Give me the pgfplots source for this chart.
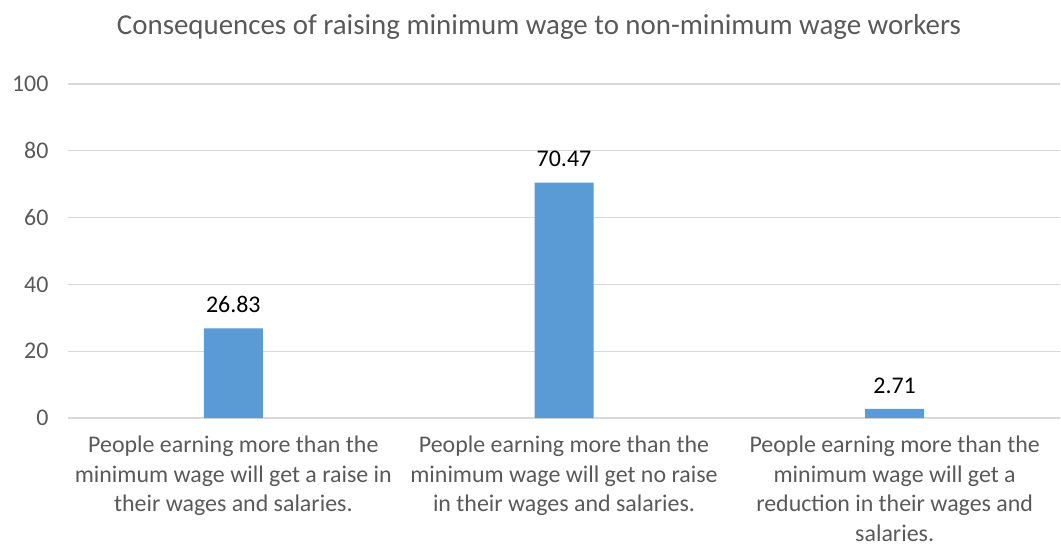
\documentclass[border=0pt]{standalone}
\usepackage{pgfplots}
\pgfplotsset{compat=1.18}
\usepackage{fontspec}
\setmainfont{Carlito}
\definecolor{barblue}{HTML}{5B9BD5}
\definecolor{txtgray}{HTML}{595959}
\definecolor{gridgray}{HTML}{D9D9D9}
\begin{document}
\begin{tikzpicture}
\useasboundingbox (-68bp,-128bp) rectangle (993bp,418bp);
\begin{axis}[
  scale only axis,
  width=992bp, height=334bp,
  xmin=-0.5, xmax=2.5,
  ymin=0, ymax=100,
  ytick={0,20,...,100},
  xtick={0,1,2},
  xticklabels={{People earning more than the\\minimum wage will get a raise in\\their wages and salaries.},
               {People earning more than the\\minimum wage will get no raise\\in their wages and salaries.},
               {People earning more than the\\minimum wage will get a\\reduction in their wages and\\salaries.}},
  xticklabel style={align=center, text=txtgray, font=\fontsize{24}{30}\selectfont, anchor=north, yshift=-14bp},
  yticklabel style={text=txtgray, font=\fontsize{24}{28}\selectfont, xshift=-16bp},
  /pgf/number format/assume math mode=true,
  major tick length=0pt,
  axis line style={draw=none},
  ymajorgrids,
  grid style={gridgray, line width=1.2bp},
  title={Consequences of raising minimum wage to non-minimum wage workers},
  title style={text=txtgray, font=\fontsize{29}{34}\selectfont, yshift=35bp, xshift=-25bp},
  nodes near coords,
  nodes near coords style={text=black, yshift=12bp, font=\fontsize{24}{28}\selectfont, /pgf/number format/.cd, fixed, precision=2, fixed zerofill, assume math mode=true},
  clip=false,
]
\addplot[ybar, bar width=59bp, fill=barblue, draw=none] coordinates {(0,26.83) (1,70.47) (2,2.71)};
\end{axis}
\end{tikzpicture}
\end{document}
